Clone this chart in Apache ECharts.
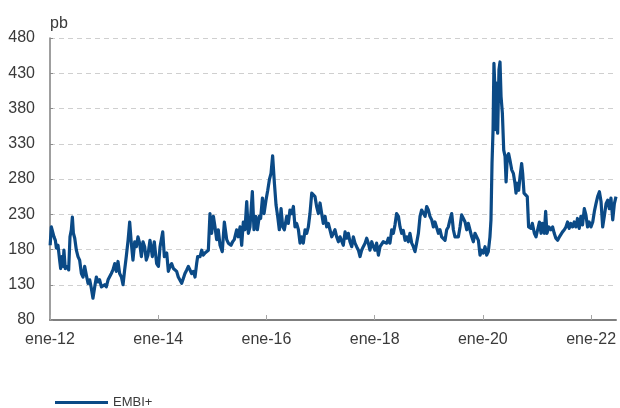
<!DOCTYPE html>
<html>
<head>
<meta charset="utf-8">
<script src="https://cdn.jsdelivr.net/npm/echarts@6/dist/echarts.min.js"></script>
<style>
  html, body { margin: 0; padding: 0; background: #fff; }
  #embi-chart { width: 620px; height: 408px; }
</style>
</head>
<body>
<div id="embi-chart"></div>
<script>
// fechas de cada lectura (aprox. cada 11 dias) y el spread EMBI+ en pb
const fechas = [
  '2012-01-02','2012-01-10','2012-01-17','2012-01-28','2012-02-06','2012-02-13','2012-02-24','2012-03-06','2012-03-13','2012-03-22',
  '2012-03-29','2012-04-04','2012-04-13','2012-04-27','2012-05-06','2012-05-15','2012-05-24','2012-05-31','2012-06-07','2012-06-16',
  '2012-06-27','2012-07-08','2012-07-19','2012-07-31','2012-08-11','2012-08-22','2012-09-02','2012-09-14','2012-09-25','2012-10-06',
  '2012-10-17','2012-10-29','2012-11-09','2012-11-20','2012-12-01','2012-12-13','2012-12-24','2013-01-04','2013-01-15','2013-01-27',
  '2013-02-07','2013-02-18','2013-03-01','2013-03-13','2013-03-24','2013-04-04','2013-04-15','2013-04-27','2013-05-08','2013-05-19',
  '2013-05-30','2013-06-11','2013-06-22','2013-07-03','2013-07-14','2013-07-26','2013-08-06','2013-08-17','2013-08-28','2013-09-09',
  '2013-09-20','2013-10-01','2013-10-12','2013-10-23','2013-11-06','2013-11-22','2013-12-05','2013-12-21','2014-01-02','2014-01-13',
  '2014-01-31','2014-02-11','2014-02-27','2014-03-10','2014-03-21','2014-04-01','2014-04-13','2014-04-24','2014-05-05','2014-05-16',
  '2014-05-28','2014-06-08','2014-06-19','2014-06-30','2014-07-12','2014-07-23','2014-08-03','2014-08-14','2014-08-26','2014-09-06',
  '2014-09-17','2014-09-24','2014-10-10','2014-10-21','2014-11-01','2014-11-12','2014-11-24','2014-12-05','2014-12-16','2014-12-27',
  '2015-01-08','2015-01-19','2015-01-30','2015-02-10','2015-02-22','2015-03-09','2015-03-23','2015-04-08','2015-04-19','2015-05-07',
  '2015-05-18','2015-05-29','2015-06-14','2015-06-25','2015-07-07','2015-07-18','2015-07-29','2015-08-09','2015-08-21','2015-09-01',
  '2015-09-12','2015-09-28','2015-10-09','2015-10-21','2015-11-01','2015-11-14','2015-11-23','2015-12-05','2015-12-16','2015-12-29',
  '2016-01-10','2016-01-21','2016-02-01','2016-02-12','2016-02-24','2016-03-06','2016-03-17','2016-03-28','2016-04-09','2016-04-20',
  '2016-05-01','2016-05-17','2016-05-28','2016-06-08','2016-06-20','2016-07-01','2016-07-12','2016-07-23','2016-08-04','2016-08-15',
  '2016-08-26','2016-09-06','2016-09-18','2016-09-29','2016-10-10','2016-10-21','2016-11-02','2016-11-13','2016-11-24','2016-12-05',
  '2016-12-17','2016-12-28','2017-01-08','2017-01-19','2017-01-31','2017-02-11','2017-02-22','2017-03-05','2017-03-17','2017-03-28',
  '2017-04-08','2017-04-19','2017-05-01','2017-05-12','2017-05-23','2017-06-03','2017-06-15','2017-06-26','2017-07-07','2017-07-18',
  '2017-07-30','2017-08-10','2017-08-21','2017-09-01','2017-09-13','2017-09-24','2017-10-05','2017-10-16','2017-10-28','2017-11-08',
  '2017-11-19','2017-11-30','2017-12-12','2017-12-23','2018-01-03','2018-01-14','2018-01-26','2018-02-06','2018-02-17','2018-02-28',
  '2018-03-12','2018-03-23','2018-04-03','2018-04-14','2018-04-26','2018-05-07','2018-05-18','2018-05-29','2018-06-10','2018-06-21',
  '2018-07-02','2018-07-13','2018-07-25','2018-08-05','2018-08-16','2018-08-27','2018-09-08','2018-09-19','2018-09-30','2018-10-11',
  '2018-10-23','2018-11-03','2018-11-14','2018-11-25','2018-12-07','2018-12-18','2018-12-29','2019-01-09','2019-01-21','2019-02-01',
  '2019-02-12','2019-02-23','2019-03-07','2019-03-18','2019-03-29','2019-04-09','2019-04-21','2019-05-02','2019-05-13','2019-05-24',
  '2019-06-05','2019-06-16','2019-06-27','2019-07-08','2019-07-20','2019-07-31','2019-08-11','2019-08-22','2019-09-03','2019-09-14',
  '2019-09-25','2019-10-06','2019-10-18','2019-10-29','2019-11-09','2019-11-20','2019-12-02','2019-12-13','2019-12-24','2020-01-04',
  '2020-01-16','2020-01-27','2020-02-07','2020-02-18','2020-02-25','2020-03-03','2020-03-10','2020-03-16','2020-03-23','2020-03-30',
  '2020-04-03','2020-04-10','2020-04-19','2020-04-26','2020-05-03','2020-05-12','2020-05-21','2020-05-30','2020-06-06','2020-06-14',
  '2020-06-23','2020-07-02','2020-07-14','2020-07-25','2020-08-05','2020-08-12','2020-08-21','2020-08-30','2020-09-08','2020-09-19',
  '2020-09-26','2020-10-05','2020-10-16','2020-10-27','2020-11-05','2020-11-21','2020-11-30','2020-12-14','2020-12-25','2021-01-05',
  '2021-01-17','2021-01-28','2021-02-06','2021-02-19','2021-02-28','2021-03-09','2021-03-22','2021-04-05','2021-04-16','2021-04-27',
  '2021-05-08','2021-05-20','2021-06-01','2021-06-11','2021-06-22','2021-07-04','2021-07-15','2021-07-26','2021-08-06','2021-08-17',
  '2021-08-29','2021-09-09','2021-09-20','2021-10-01','2021-10-13','2021-10-24','2021-11-04','2021-11-16','2021-11-27','2021-12-08',
  '2021-12-19','2021-12-31','2022-01-12','2022-01-23','2022-02-03','2022-02-14','2022-02-26','2022-03-09','2022-03-20','2022-03-31',
  '2022-04-12','2022-04-23','2022-05-04','2022-05-15','2022-05-27','2022-06-07','2022-06-18'
];

const embi = [
  186,212,210,198,193,182,186,165,153,170,
  156,179,153,156,151,198,208,226,203,196,
  179,170,165,146,141,156,144,132,137,125,
  111,127,141,134,137,127,125,130,127,137,
  139,146,151,160,149,163,146,141,130,151,
  170,193,219,189,165,191,184,198,189,170,
  191,184,165,172,193,170,191,160,156,184,
  205,170,175,149,156,160,153,151,149,141,
  139,132,139,146,151,156,151,146,149,141,
  160,170,170,179,172,175,177,179,231,203,
  227,212,194,208,186,177,219,194,189,186,
  191,194,208,198,212,186,219,208,248,203,
  212,262,208,227,208,227,224,253,231,250,
  264,279,288,313,274,243,227,208,238,212,
  208,227,217,236,231,241,212,217,208,189,
  198,189,208,203,212,231,260,260,255,241,
  231,246,231,217,227,212,217,208,198,203,
  208,198,191,198,198,186,205,196,203,191,
  184,198,189,184,179,170,179,184,189,196,
  189,179,191,184,179,189,172,184,186,191,
  193,189,196,189,208,203,215,231,227,212,
  203,207,193,198,191,203,189,184,177,189,
  203,227,236,238,227,241,236,227,222,212,
  219,217,203,208,198,200,193,208,212,222,
  231,208,198,196,198,212,229,227,219,208,
  217,208,198,191,203,205,193,172,179,175,
  184,172,177,198,222,302,350,444,406,350,
  416,345,435,446,397,373,321,312,276,312,
  316,307,293,288,274,260,274,264,283,302,
  288,260,260,255,212,210,217,203,198,208,
  219,203,217,203,234,203,212,208,212,203,
  196,193,198,196,205,208,212,219,210,217,
  212,219,212,224,210,227,215,238,229,212,
  219,212,219,234,245,255,262,248,212,227,
  245,250,238,253,222,245,255
];

// etiquetas del eje x (cada dos anos, en enero)
const etiquetasX = ['2012-01-01','2014-01-01','2016-01-01','2018-01-01','2020-01-01','2022-01-01'];
const yMin = 80;
const yMax = 480;
const yPaso = 50;

function aTiempo(str) {
  const p = str.split('-');
  return Date.UTC(+p[0], +p[1] - 1, +p[2]);
}

const chart = echarts.init(document.getElementById('embi-chart'));
const ticksX = etiquetasX.map(aTiempo);
const serie = fechas.map((f, i) => [aTiempo(f), embi[i]]);

const textColor = '#3a3a3a';
const fuente = 'Liberation Sans, Arial, Helvetica, sans-serif';

const option = {
  animation: false,
  backgroundColor: '#ffffff',
  grid: {
    left: 50,
    right: 4,
    top: 38,
    bottom: 88
  },
  legend: {
    left: 50,
    top: 391,
    icon: 'rect',
    itemWidth: 53,
    itemHeight: 3,
    textStyle: {
      color: textColor,
      fontSize: 13,
      fontFamily: fuente
    },
    data: ['EMBI+']
  },
  xAxis: {
    // eje numerico con marcas de tiempo (ms)
    type: 'value',
    min: ticksX[0],
    max: aTiempo(fechas[fechas.length - 1]),
    axisLine: {
      lineStyle: { color: '#7f7f7f', width: 2 }
    },
    axisTick: {
      show: true,
      inside: true,
      length: 5,
      customValues: ticksX,
      lineStyle: { color: '#a6a6a6', width: 1 }
    },
    axisLabel: {
      customValues: ticksX,
      showMaxLabel: true,
      color: textColor,
      fontSize: 16,
      fontFamily: fuente,
      margin: 12,
      formatter: function (value) {
        const d = new Date(value);
        return 'ene-' + String(d.getUTCFullYear()).slice(2);
      }
    },
    splitLine: { show: false }
  },
  yAxis: {
    type: 'value',
    min: yMin,
    max: yMax,
    interval: yPaso,
    name: 'pb',
    nameLocation: 'end',
    nameGap: 14,
    nameTextStyle: {
      color: textColor,
      fontSize: 16,
      fontFamily: fuente,
      align: 'left',
      verticalAlign: 'middle'
    },
    axisLine: {
      show: true,
      lineStyle: { color: '#7f7f7f', width: 1.5 }
    },
    axisTick: {
      show: true,
      inside: true,
      length: 3,
      lineStyle: { color: '#8c8c8c' }
    },
    axisLabel: {
      color: textColor,
      fontSize: 16,
      fontFamily: fuente,
      margin: 15
    },
    splitLine: {
      show: true,
      lineStyle: { color: '#cfcfcf', type: [5, 4], width: 1 }
    }
  },
  series: [
    {
      name: 'EMBI+',
      type: 'line',
      data: serie,
      showSymbol: false,
      symbol: 'none',
      smooth: false,
      color: '#0b4a86',
      lineStyle: { color: '#0b4a86', width: 3.2, join: 'round' }
    }
  ]
};

chart.setOption(option);
</script>
</body>
</html>
